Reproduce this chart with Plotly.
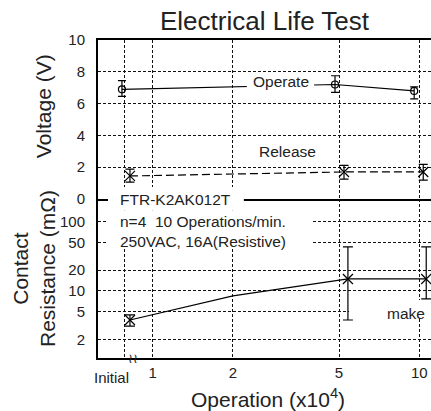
import plotly.graph_objects as go
from plotly.subplots import make_subplots

# x positions in units of 10^4 operations ("Initial" sits left of 1 on the log axis)
initial_x = 0.787
tick_vals = [initial_x, 1, 2, 5, 10]
tick_text = ["", "1", "2", "5", "10"]

# operate voltage (V)
op_x = [0.767, 4.83, 9.57]
op_v = [6.9, 7.2, 6.8]
op_hi = [7.45, 7.75, 7.05]
op_lo = [6.45, 6.7, 6.3]

# release voltage (V)
rel_x = [0.822, 5.22, 10.35]
rel_v = [1.45, 1.7, 1.7]
rel_hi = [1.88, 2.12, 2.18]
rel_lo = [1.06, 1.25, 1.19]

# contact resistance (mOhm)
res_x = [0.822, 5.4, 10.62]
res_v = [3.8, 14.9, 14.9]
res_hi = [4.5, 43.5, 43.5]
res_lo = [3.1, 3.8, 7.7]
res_curve_x = [0.822, 2, 5.4, 10.62]
res_curve_v = [3.8, 8.5, 14.9, 14.9]

volt_ticks = [0, 2, 4, 6, 8, 10]
res_ticks = [2, 5, 10, 20, 50, 100]

FONT = "Liberation Sans, Arial, sans-serif"
TXT = "#222"

fig = make_subplots(rows=2, cols=1, shared_xaxes=True, vertical_spacing=0)

fig.add_trace(go.Scatter(
    x=op_x, y=op_v, mode="lines+markers",
    line=dict(color="black", width=1.2),
    marker=dict(symbol="circle-open", size=7, color="black", line=dict(width=1.2)),
    error_y=dict(type="data", symmetric=False,
                 array=[h - v for h, v in zip(op_hi, op_v)],
                 arrayminus=[v - l for v, l in zip(op_v, op_lo)],
                 color="black", thickness=1.2, width=4),
), row=1, col=1)

fig.add_trace(go.Scatter(
    x=rel_x, y=rel_v, mode="lines+markers",
    line=dict(color="black", width=1.2, dash="8px,4px"),
    marker=dict(symbol="x-thin-open", size=10, color="black", line=dict(width=1.2, color="black")),
    error_y=dict(type="data", symmetric=False,
                 array=[h - v for h, v in zip(rel_hi, rel_v)],
                 arrayminus=[v - l for v, l in zip(rel_v, rel_lo)],
                 color="black", thickness=1.2, width=4.5),
), row=1, col=1)

fig.add_trace(go.Scatter(
    x=res_curve_x, y=res_curve_v, mode="lines",
    line=dict(color="black", width=1.2),
), row=2, col=1)

fig.add_trace(go.Scatter(
    x=res_x, y=res_v, mode="markers",
    marker=dict(symbol="x-thin-open", size=10, color="black", line=dict(width=1.2, color="black")),
    error_y=dict(type="data", symmetric=False,
                 array=[h - v for h, v in zip(res_hi, res_v)],
                 arrayminus=[v - l for v, l in zip(res_v, res_lo)],
                 color="black", thickness=1.2, width=5),
), row=2, col=1)

grid = dict(showgrid=True, gridcolor="#111", gridwidth=1.2, griddash="3px,2px")

fig.update_xaxes(type="log", range=[-0.205, 1.044], tickvals=tick_vals, ticktext=tick_text,
                 zeroline=False, ticks="", **grid)
fig.update_xaxes(showline=True, linecolor="black", linewidth=1.7, mirror=True,
                 showticklabels=False, row=1, col=1)
fig.update_xaxes(showline=True, linecolor="black", linewidth=2,
                 tickfont=dict(size=15, color=TXT), row=2, col=1)

fig.update_yaxes(range=[0, 10], tickvals=volt_ticks, domain=[0.5, 1],
                 showline=True, linecolor="black", linewidth=2, zeroline=False,
                 ticks="", ticklabelstandoff=8, tickfont=dict(size=15, color=TXT),
                 row=1, col=1, **grid)
fig.update_yaxes(type="log", range=[0.03, 2.33], tickvals=res_ticks,
                 ticktext=[str(t) for t in res_ticks], domain=[0, 0.5],
                 showline=True, linecolor="black", linewidth=2, zeroline=False,
                 ticks="", ticklabelstandoff=8, tickfont=dict(size=15, color=TXT),
                 row=2, col=1, **grid)

white = dict(type="rect", xref="paper", yref="paper", fillcolor="white",
             line=dict(width=0), layer="above")
shapes = [
    dict(x0=0.030, x1=0.438, y0=0.465, y1=0.538, **white),
    dict(x0=0.030, x1=0.640, y0=0.346, y1=0.465, **white),
    dict(x0=0.447, x1=0.649, y0=0.833, y1=0.868, **white),
    dict(x0=0.754, x1=1.0, y0=0.126, y1=0.182, **white),
]

def note(text, x, y, size=15.5, xanchor="center", **kw):
    return dict(text=text, x=x, y=y, xref="paper", yref="paper", showarrow=False,
                xanchor=xanchor, yanchor="middle",
                font=dict(size=size, color=TXT, family=FONT), **kw)

annotations = [
    note("Voltage (V)", -0.165, 0.792, size=21, textangle=-90),
    note("Contact<br>Resistance (mΩ)", -0.192, 0.28, size=21, textangle=-90),
    note("Operation (x10<sup>4</sup>)", 0.51, -0.125, size=21),
    note("Initial", 0.042, -0.060, size=15),
    note("≀≀", 0.105, 0.0, size=13),
    note("Operate", 0.551, 0.871),
    note("Release", 0.5676, 0.648),
    note("make", 0.925, 0.14),
    note("FTR-K2AK012T", 0.060, 0.497, xanchor="left"),
    note("n=4\u00a0\u00a010 Operations/min.", 0.060, 0.428, xanchor="left"),
    note("250VAC, 16A(Resistive)", 0.060, 0.365, xanchor="left"),
]

fig.update_layout(
    width=431, height=411, autosize=False,
    margin=dict(l=98, r=0, t=40, b=53),
    paper_bgcolor="white", plot_bgcolor="white",
    showlegend=False,
    font=dict(family=FONT, color=TXT),
    title=dict(text="Electrical Life Test", x=0.5, xref="paper", xanchor="center",
               y=1 - 21 / 411, yanchor="middle", font=dict(size=26, color=TXT, family=FONT)),
    shapes=shapes,
    annotations=annotations,
)

# the page body has a default 8px margin; drop it so the figure sits at the window corner
fig.write_html("out.html", config={"displayModeBar": False},
               post_script="document.body.style.margin='0';")
